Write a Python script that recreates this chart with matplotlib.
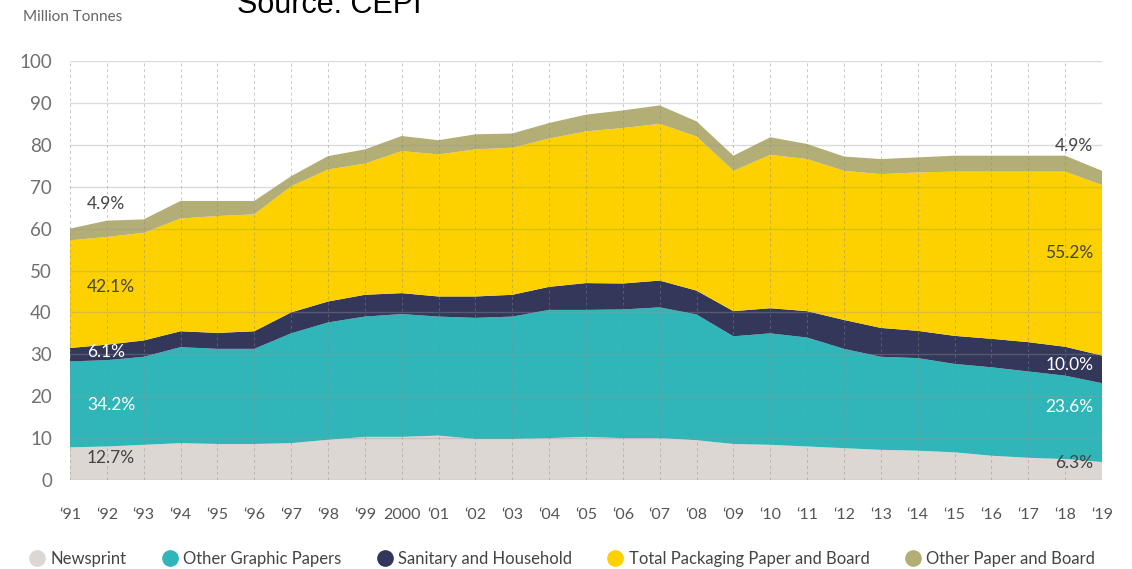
import matplotlib.pyplot as plt
from matplotlib.lines import Line2D

plt.rcParams['font.family'] = ['Lato', 'DejaVu Sans']

# data (million tonnes)
years = list(range(1991, 2020))
year_labels = ['\u201891', '\u201892', '\u201893', '\u201894', '\u201895', '\u201896', '\u201897',
               '\u201898', '\u201899', '2000', '\u201801', '\u201802', '\u201803', '\u201804',
               '\u201805', '\u201806', '\u201807', '\u201808', '\u201809', '\u201810', '\u201811',
               '\u201812', '\u201813', '\u201814', '\u201815', '\u201816', '\u201817', '\u201818',
               '\u201819']
newsprint = [7.8, 8.0, 8.4, 8.8, 8.6, 8.6, 8.8, 9.6, 10.3, 10.3, 10.6, 9.8, 9.8, 10.0,
             10.3, 10.0, 10.0, 9.5, 8.6, 8.4, 8.0, 7.6, 7.2, 7.0, 6.6, 5.8, 5.3, 5.0, 4.3]
graphic = [20.5, 20.6, 21.0, 22.9, 22.7, 22.7, 26.2, 28.0, 28.7, 29.3, 28.4, 28.9, 29.2, 30.6,
           30.3, 30.7, 31.2, 30.0, 25.7, 26.6, 26.0, 23.7, 22.2, 22.1, 21.1, 21.1, 20.6, 19.9, 18.8]
sanitary = [3.2, 3.7, 3.9, 3.8, 3.8, 4.2, 5.0, 5.0, 5.2, 5.0, 4.8, 5.1, 5.2, 5.5,
            6.4, 6.2, 6.4, 5.7, 6.0, 6.0, 6.3, 6.9, 6.9, 6.5, 6.7, 6.8, 7.0, 6.9, 6.6]
packaging = [25.7, 25.7, 25.7, 26.9, 27.9, 27.9, 30.1, 31.5, 31.3, 33.9, 33.9, 35.1, 35.1, 35.4,
             36.2, 37.1, 37.4, 36.8, 33.5, 36.6, 36.3, 35.6, 36.7, 37.8, 39.2, 39.9, 40.7, 41.8, 40.7]
other = [2.8, 3.9, 3.2, 4.2, 3.6, 3.2, 2.4, 3.2, 3.4, 3.6, 3.4, 3.6, 3.4, 3.7,
         4.0, 4.2, 4.4, 3.6, 3.6, 4.2, 3.6, 3.4, 3.6, 3.6, 3.8, 3.8, 3.8, 3.8, 3.4]

names = ['Newsprint', 'Other Graphic Papers', 'Sanitary and Household',
         'Total Packaging Paper and Board', 'Other Paper and Board']
colors = ['#dcd7d2', '#30b5b8', '#33375a', '#fdd000', '#b3ae75']

fig = plt.figure(figsize=(11.32, 5.69), dpi=100)
ax = fig.add_axes([0.0618, 0.1564, 0.9117, 0.7364])

ax.stackplot(years, newsprint, graphic, sanitary, packaging, other,
             colors=colors, linewidth=0, zorder=1)

ax.set_xlim(1991, 2019)
ax.set_ylim(0, 100)
ax.set_yticks(range(0, 101, 10))
ax.set_xticks(years)
ax.set_xticklabels(year_labels)
ax.tick_params(axis='both', length=0)
ax.tick_params(axis='y', labelsize=13.5, pad=13, colors='#707070')
ax.tick_params(axis='x', labelsize=11.5, pad=20, colors='#555555')
for s in ax.spines.values():
    s.set_visible(False)

ax.set_axisbelow(False)
ax.grid(axis='y', color='#999999', alpha=0.35, linewidth=1, zorder=3)
ax.grid(axis='x', color='#888888', alpha=0.45, linewidth=0.7, linestyle=(0, (3, 3)), zorder=3)

# share labels
lab = dict(fontsize=12.5, va='center', zorder=5)
ax.text(1991.46, 65.9, '4.9%', color='#444444', ha='left', **lab)
ax.text(1991.46, 46.1, '42.1%', color='#444444', ha='left', **lab)
ax.text(1991.46, 30.5, '6.1%', color='white', ha='left', **lab)
ax.text(1991.46, 17.9, '34.2%', color='white', ha='left', **lab)
ax.text(1991.46, 5.3, '12.7%', color='#444444', ha='left', **lab)
ax.text(2018.76, 79.7, '4.9%', color='#444444', ha='right', **lab)
ax.text(2018.76, 54.2, '55.2%', color='#444444', ha='right', **lab)
ax.text(2018.76, 27.4, '10.0%', color='white', ha='right', **lab)
ax.text(2018.76, 17.4, '23.6%', color='white', ha='right', **lab)
ax.text(2018.76, 4.1, '6.3%', color='#444444', ha='right', **lab)

fig.text(0.02, 0.97, 'Million Tonnes', fontsize=11, color='#666666', va='center')
fig.text(0.209, 0.977, 'Source: CEPI', fontsize=22, family='Liberation Sans',
         color='black', va='baseline')

handles = [Line2D([], [], marker='o', linestyle='', markersize=11,
                  markerfacecolor=c, markeredgecolor=c) for c in colors]
fig.legend(handles, names, loc='center left', bbox_to_anchor=(0.012, 0.018),
           ncol=5, frameon=False, fontsize=12, handletextpad=0.3,
           columnspacing=2.1, labelcolor='#444444', handlelength=1.0)

plt.savefig('out.png', dpi=100)
